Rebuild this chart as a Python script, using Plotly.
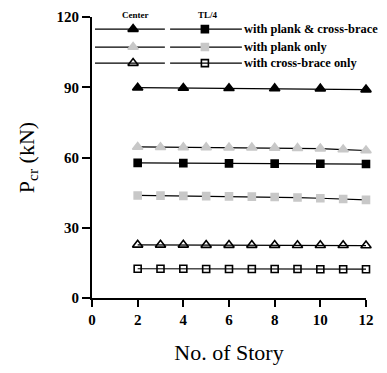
import plotly.graph_objects as go

# ---- data ----
stories_even = [2, 4, 6, 8, 10, 12]
stories_all = [2, 3, 4, 5, 6, 7, 8, 9, 10, 11, 12]

center_plank_cross = [89.8, 89.7, 89.6, 89.5, 89.4, 89.0]
tl4_plank_cross = [57.7, 57.6, 57.5, 57.4, 57.3, 57.2]
center_plank = [64.5, 64.4, 64.3, 64.3, 64.2, 64.2, 64.1, 64.0, 63.8, 63.4, 63.0]
tl4_plank = [43.8, 43.7, 43.6, 43.5, 43.4, 43.3, 43.1, 42.9, 42.6, 42.3, 41.9]
center_cross = [22.7, 22.7, 22.7, 22.6, 22.6, 22.6, 22.6, 22.5, 22.5, 22.5, 22.4]
tl4_cross = [12.5, 12.5, 12.5, 12.4, 12.4, 12.4, 12.4, 12.4, 12.3, 12.3, 12.3]

legend_labels = ["with plank & cross-brace", "with plank only", "with cross-brace only"]
legend_headers = ["Center", "TL/4"]
x_ticks = [0, 2, 4, 6, 8, 10, 12]
y_ticks = [0, 30, 60, 90, 120]

GRAY = "#c8c8c8"
SERIF = "Liberation Serif"

series = [
    (stories_even, center_plank_cross, "triangle-up", "black", 9),
    (stories_even, tl4_plank_cross, "square", "black", 7),
    (stories_all, center_plank, "triangle-up", GRAY, 9),
    (stories_all, tl4_plank, "square", GRAY, 7),
    (stories_all, center_cross, "triangle-up-open", "black", 9),
    (stories_all, tl4_cross, "square-open", "black", 7),
]

fig = go.Figure()
for xs, ys, sym, mc, sz in series:
    fig.add_trace(go.Scatter(
        x=xs, y=ys, mode="lines+markers",
        line=dict(color="black", width=1.2),
        marker=dict(symbol=sym, color=mc, size=sz, line=dict(color=mc, width=1.6)),
        cliponaxis=False, showlegend=False))

# ---- hand-built legend on an overlay axis (0..1 in both directions) ----
leg_rows_y = [0.957, 0.893, 0.836]
leg_seg1 = (0.011, 0.266)
leg_seg2 = (0.285, 0.547)
leg_m1 = 0.150
leg_m2 = 0.412
leg_text_x = 0.548
leg_styles = [
    (("triangle-up", "black"), ("square", "black")),
    (("triangle-up", GRAY), ("square", GRAY)),
    (("triangle-up-open", "black"), ("square-open", "black")),
]
for yy, (s1, s2) in zip(leg_rows_y, leg_styles):
    for seg in (leg_seg1, leg_seg2):
        fig.add_trace(go.Scatter(x=list(seg), y=[yy, yy], mode="lines", xaxis="x2", yaxis="y2",
                                 line=dict(color="black", width=1.3), showlegend=False,
                                 cliponaxis=False, hoverinfo="skip"))
    fig.add_trace(go.Scatter(x=[leg_m1], y=[yy], mode="markers", xaxis="x2", yaxis="y2",
                             marker=dict(symbol=s1[0], color=s1[1], size=9, line=dict(color=s1[1], width=1.6)),
                             showlegend=False, cliponaxis=False, hoverinfo="skip"))
    fig.add_trace(go.Scatter(x=[leg_m2], y=[yy], mode="markers", xaxis="x2", yaxis="y2",
                             marker=dict(symbol=s2[0], color=s2[1], size=7, line=dict(color=s2[1], width=1.6)),
                             showlegend=False, cliponaxis=False, hoverinfo="skip"))

annotations = []
for yy, lab in zip(leg_rows_y, legend_labels):
    annotations.append(dict(x=leg_text_x, y=yy, xref="paper", yref="paper", text=lab,
                            showarrow=False, xanchor="left", yanchor="middle",
                            font=dict(family=SERIF, size=12.4, color="black", weight="bold")))
for xx, hdr in zip([0.157, 0.423], legend_headers):
    annotations.append(dict(x=xx, y=1.007, xref="paper", yref="paper", text=hdr,
                            showarrow=False, xanchor="center", yanchor="middle",
                            font=dict(family=SERIF, size=9, color="black", weight="bold")))

fig.update_layout(
    template="none",
    width=371, height=357,
    margin=dict(l=84, r=13, t=9, b=67),
    paper_bgcolor="white", plot_bgcolor="white",
    font=dict(family=SERIF, color="black"),
    xaxis=dict(range=[0, 12], tickvals=x_ticks, ticks="outside", ticklen=7, tickwidth=2,
               showline=True, linewidth=2, linecolor="black", showgrid=False, zeroline=False,
               automargin=False, tickcolor="black",
               tickfont=dict(family=SERIF, size=15, weight="bold"),
               title=dict(text="No. of Story", font=dict(family=SERIF, size=22), standoff=20)),
    yaxis=dict(range=[0, 120], tickvals=y_ticks, ticks="outside", ticklen=8, tickwidth=2,
               showline=True, linewidth=2, linecolor="black", showgrid=False, zeroline=False,
               automargin=False, tickcolor="black",
               tickfont=dict(family=SERIF, size=15, weight="bold"),
               title=dict(text="P<sub>cr</sub> (kN)", font=dict(family=SERIF, size=22), standoff=16)),
    xaxis2=dict(overlaying="x", range=[0, 1], visible=False),
    yaxis2=dict(overlaying="y", range=[0, 1], visible=False),
    annotations=annotations,
)

fig.write_html("out.html")
